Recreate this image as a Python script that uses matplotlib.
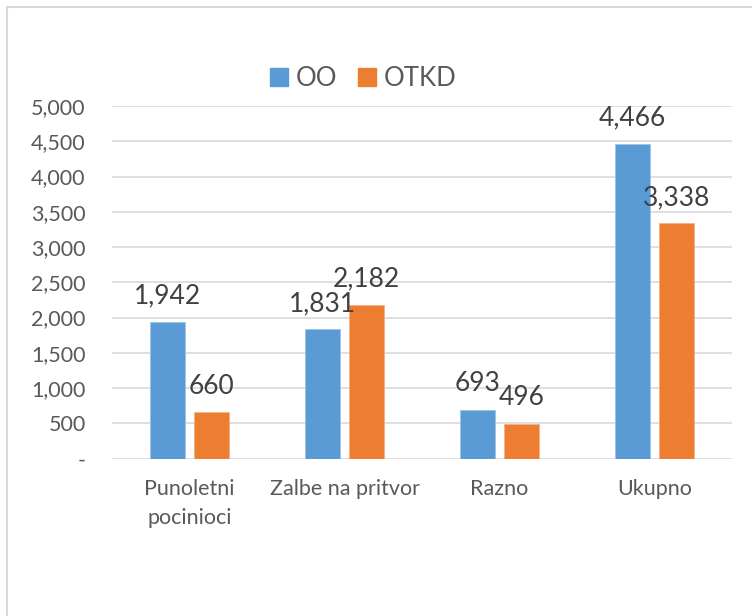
import numpy as np
import matplotlib
matplotlib.use("Agg")
import matplotlib.pyplot as plt
from matplotlib.lines import Line2D

plt.rcParams['font.family'] = ['Lato', 'DejaVu Sans']

categories = ["Punoletni\npocinioci", "Zalbe na pritvor", "Razno", "Ukupno"]
oo = [1942, 1831, 693, 4466]
otkd = [660, 2182, 496, 3338]
series_names = ["OO", "OTKD"]
yticks = [0, 500, 1000, 1500, 2000, 2500, 3000, 3500, 4000, 4500, 5000]
ytick_labels = ["-", "500", "1,000", "1,500", "2,000", "2,500", "3,000",
                "3,500", "4,000", "4,500", "5,000"]

BLUE = "#5B9BD5"
ORANGE = "#ED7D31"
GRID = "#D9D9D9"
TXT = "#595959"
LBL = "#404040"

fig = plt.figure(figsize=(7.52, 6.16), dpi=100)
ax = fig.add_axes([112 / 752, 1 - 458.5 / 616, 620 / 752, 352.5 / 616])

x = np.arange(len(categories))
w = 0.225
off = 0.142

b1 = ax.bar(x - off, oo, w, color=BLUE, edgecolor="#9DC3E6", linewidth=0.6, zorder=3)
b2 = ax.bar(x + off, otkd, w, color=ORANGE, edgecolor="#F4B183", linewidth=0.6, zorder=3)

for bars, vals in ((b1, oo), (b2, otkd)):
    for r, v in zip(bars, vals):
        ax.annotate(f"{v:,}", (r.get_x() + r.get_width() / 2, v),
                    xytext=(0, 9.5), textcoords="offset points",
                    ha="center", va="bottom", fontsize=19, color=LBL, zorder=4)

ax.set_xlim(-0.5, len(categories) - 0.5)
ax.set_ylim(0, 5000)
ax.set_yticks(yticks)
ax.set_yticklabels(ytick_labels)
ax.set_xticks(x)
ax.set_xticklabels(categories, linespacing=1.55)
ax.tick_params(axis="y", length=0, pad=19, labelsize=15.5, labelcolor=TXT)
ax.tick_params(axis="x", length=0, pad=15, labelsize=15.5, labelcolor=TXT)
ax.yaxis.grid(True, color=GRID, linewidth=1.2, zorder=0)
ax.set_axisbelow(True)
for s in ax.spines.values():
    s.set_visible(False)

handles = [plt.Rectangle((0, 0), 1, 1, color=BLUE),
           plt.Rectangle((0, 0), 1, 1, color=ORANGE)]
fig.legend(handles, series_names, loc="center", bbox_to_anchor=(0.483, 0.873),
           ncol=2, frameon=False, fontsize=18.5, labelcolor=TXT,
           handlelength=0.7, handleheight=0.7, handletextpad=0.3, columnspacing=0.8)

# chart border (left and top edges visible)
fig.add_artist(Line2D([7 / 752, 7 / 752], [0, 1 - 7 / 616], transform=fig.transFigure,
                      color="#D9D9D9", linewidth=1.5))
fig.add_artist(Line2D([7 / 752, 1], [1 - 7 / 616, 1 - 7 / 616], transform=fig.transFigure,
                      color="#D9D9D9", linewidth=1.5))

fig.savefig("out.png", dpi=100)
